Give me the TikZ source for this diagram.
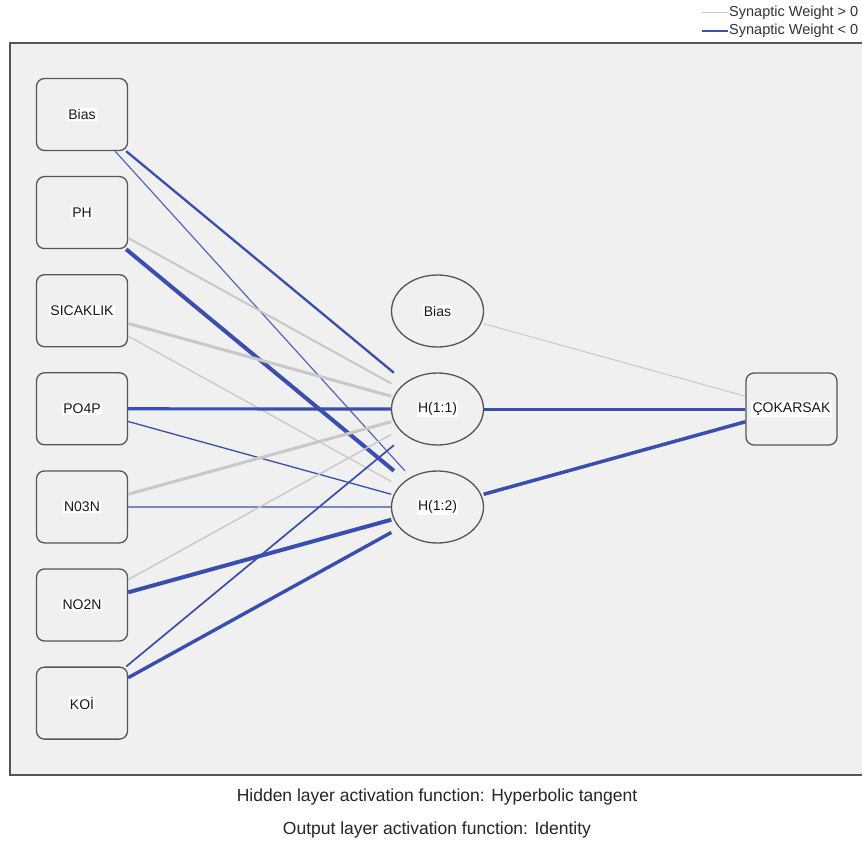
\documentclass[tikz,border=0pt]{standalone}
\usepackage{fontspec}
\setmainfont{Liberation Sans}
\usetikzlibrary{shapes.geometric}
\definecolor{bg}{RGB}{240,240,240}
\definecolor{negc}{RGB}{58,78,178}
\definecolor{posc}{RGB}{200,200,200}
\definecolor{bd}{RGB}{85,85,85}
\begin{document}
\begin{tikzpicture}[x=1pt,y=-1pt,
  inbox/.style={draw=bd, line width=1.3pt, rounded corners=8pt, fill=bg,
    minimum width=91pt, minimum height=72pt, inner sep=0pt},
  hid/.style={ellipse, draw=bd, line width=1.3pt, fill=bg,
    minimum width=92pt, minimum height=72pt, inner sep=0pt},
  hidbox/.style={rectangle, minimum width=92pt, minimum height=72pt, inner sep=0pt},
  lbl/.style={fill=white, inner sep=1.2pt, text=black!90, font=\fontsize{14}{16}\selectfont},
  posw/.style={draw=posc, line width=#1},
  negw/.style={draw=negc, line width=#1},
  legtext/.style={anchor=west, inner sep=0pt, text=black!80, font=\fontsize{14.5}{16}\selectfont},
  captext/.style={inner sep=0pt, text=black!85, font=\fontsize{17.5}{20}\selectfont},
]
\useasboundingbox (0,0) rectangle (863,848);
% frame
\fill[white] (0,0) rectangle (863,848);
\fill[bg] (10,43) rectangle (862,775);
\draw[bd, line width=1.3pt] (862,43) -- (10,43) -- (10,775) -- (862,775);

% legend
\coordinate (lp1) at (702,13);
\coordinate (lp2) at (728,13);
\coordinate (ln1) at (702,31);
\coordinate (ln2) at (728,31);
\draw[posw=1pt] (lp1) -- (lp2);
\draw[negw=1.3pt] (ln1) -- (ln2);
\node[legtext] (legp) at (729,13) {Synaptic Weight > 0};
\node[legtext] (legn) at (729,31) {Synaptic Weight < 0};

% input layer
\node[inbox, label={[lbl]center:Bias}] (i0) at (82,114.5) {};
\node[inbox, label={[lbl]center:PH}] (i1) at (82,212.6) {};
\node[inbox, label={[lbl]center:SICAKLIK}] (i2) at (82,310.7) {};
\node[inbox, label={[lbl]center:PO4P}] (i3) at (82,408.8) {};
\node[inbox, label={[lbl]center:N03N}] (i4) at (82,506.9) {};
\node[inbox, label={[lbl]center:NO2N}] (i5) at (82,605) {};
\node[inbox, label={[lbl]center:KOİ}] (i6) at (82,703.1) {};

% hidden connection boxes (bounding boxes of ellipses)
\node[hidbox] (hb) at (437.5,311) {};
\node[hidbox] (h1) at (437.5,409) {};
\node[hidbox] (h2) at (437.5,507) {};
\node[inbox, draw=none, fill=none] (ob) at (791.5,409) {};

% input -> hidden edges
\draw[negw=2.3pt] (i0) -- (h1);
\draw[negw=1.2pt, draw=negc!80!posc] (i0) -- (h2);
\draw[posw=2pt] (i1) -- (h1);
\draw[negw=4pt] (i1) -- (h2);
\draw[posw=3pt] (i2) -- (h1);
\draw[posw=1.3pt] (i2) -- (h2);
\draw[negw=3.2pt] (i3) -- (h1);
\draw[negw=1.3pt] (i3) -- (h2);
\draw[posw=3pt] (i4) -- (h1);
\draw[negw=1.3pt] (i4) -- (h2);
\draw[posw=1.4pt] (i5) -- (h1);
\draw[negw=4pt] (i5) -- (h2);
\draw[negw=1.7pt] (i6) -- (h1);
\draw[negw=3.4pt] (i6) -- (h2);

% hidden -> output edges
\draw[posw=1pt] (hb) -- (ob);
\draw[negw=3pt] (h1) -- (ob);
\draw[negw=3.5pt] (h2) -- (ob);

% hidden layer and output nodes
\node[hid, label={[lbl]center:Bias}] (hbe) at (hb) {};
\node[hid, label={[lbl]center:H(1:1)}] (h1e) at (h1) {};
\node[hid, label={[lbl]center:H(1:2)}] (h2e) at (h2) {};
\node[inbox, label={[lbl]center:ÇOKARSAK}] (out) at (ob) {};

% captions
\node[captext] (cap1) at (437,797) {Hidden layer activation function: Hyperbolic tangent};
\node[captext] (cap2) at (437,830) {Output layer activation function: Identity};
\end{tikzpicture}
\end{document}
